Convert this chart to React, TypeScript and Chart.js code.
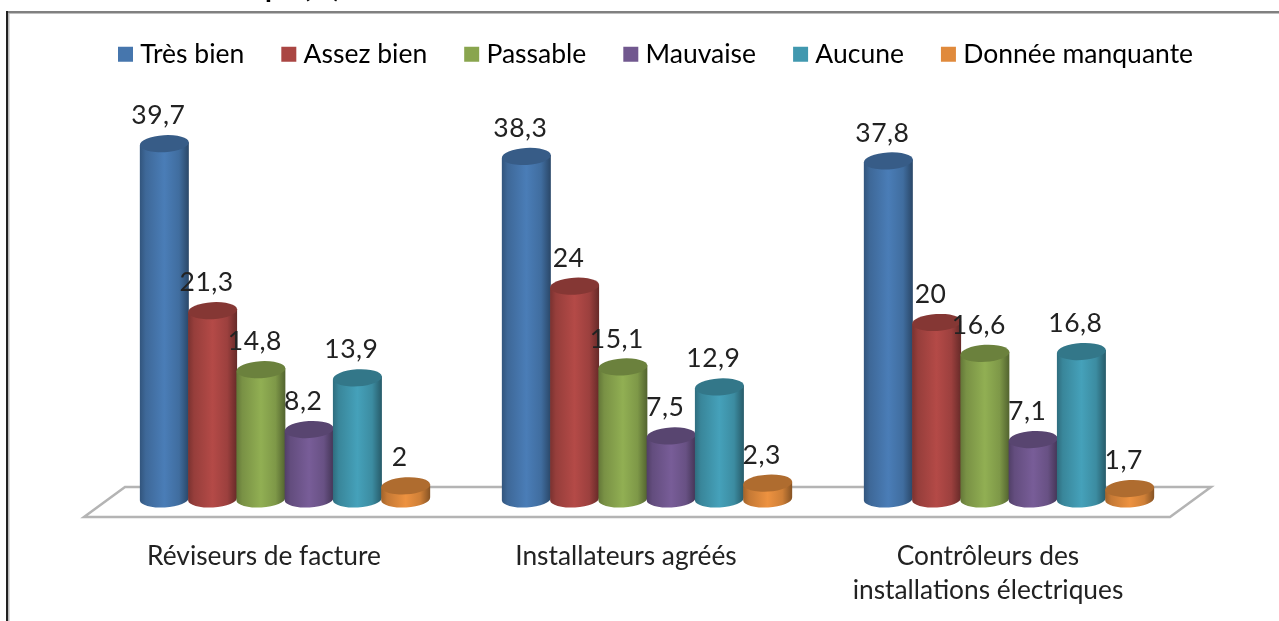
import React, { useEffect, useRef } from "react";
import { Chart, registerables } from "chart.js";

Chart.register(...registerables);

const categories: (string | string[])[] = [
  "Réviseurs de facture",
  "Installateurs agréés",
  ["Contrôleurs des", "installations électriques"],
];
const seriesNames = ["Très bien", "Assez bien", "Passable", "Mauvaise", "Aucune", "Donnée manquante"];
const tresBien = [39.7, 38.3, 37.8];
const assezBien = [21.3, 24, 20];
const passable = [14.8, 15.1, 16.6];
const mauvaise = [8.2, 7.5, 7.1];
const aucune = [13.9, 12.9, 16.8];
const manquante = [2, 2.3, 1.7];
const seriesValues = [tresBien, assezBien, passable, mauvaise, aucune, manquante];
const seriesColors = ["#4676ad", "#aa4643", "#89a54e", "#71588f", "#4198af", "#e08a3c"];
const clippedTitle = "pe (%)";

const FONT = "Lato, 'Noto Sans', sans-serif";
const TEXT = "#222222";

function shade(hex: string, f: number) {
  const n = parseInt(hex.slice(1), 16);
  const c = [(n >> 16) & 255, (n >> 8) & 255, n & 255].map((v) => Math.min(255, Math.round(v * f)));
  return `rgb(${c[0]},${c[1]},${c[2]})`;
}

function drawCylinder(ctx: CanvasRenderingContext2D, x: number, top: number, base: number, w: number, color: string) {
  const rx = w / 2;
  const ry = 8.5;
  const tilt = -0.06;
  const yBase = base - 5;
  const g = ctx.createLinearGradient(x - rx, 0, x + rx, 0);
  g.addColorStop(0, shade(color, 0.72));
  g.addColorStop(0.12, shade(color, 0.88));
  g.addColorStop(0.5, shade(color, 1.06));
  g.addColorStop(0.8, shade(color, 0.92));
  g.addColorStop(1, shade(color, 0.6));
  ctx.save();
  ctx.fillStyle = g;
  ctx.beginPath();
  ctx.moveTo(x - rx, top + 1.5);
  ctx.lineTo(x + rx, top - 1.5);
  ctx.lineTo(x + rx, yBase - 1.5);
  ctx.ellipse(x, yBase, rx, ry, tilt, 0, Math.PI);
  ctx.closePath();
  ctx.fill();
  ctx.fillStyle = shade(color, 0.78);
  ctx.beginPath();
  ctx.ellipse(x, top, rx, ry, tilt, 0, Math.PI * 2);
  ctx.fill();
  ctx.restore();
}

const decorPlugin = {
  id: "decor",
  beforeInit(chart: any) {
    const legend = chart.legend;
    const fit = legend.fit;
    legend.fit = function () {
      this.maxWidth = 1700;
      fit.call(this);
      this.width = 1086;
      this.height = 132;
    };
  },
  afterLayout(chart: any) {
    const legend = chart.legend;
    legend.left = 81;
    legend.right = 1279;
    legend.top -= 11;
    legend.bottom -= 11;
  },
  beforeDraw(chart: any) {
    const { ctx, width, height, chartArea } = chart;
    ctx.save();
    ctx.fillStyle = "#ffffff";
    ctx.fillRect(0, 0, width, height);
    ctx.fillStyle = "#808080";
    ctx.fillRect(6, 11, width - 6, 2.5);
    ctx.fillStyle = "#222222";
    ctx.fillRect(6, 11, 2, height - 11);
    ctx.fillStyle = "#b8b8b8";
    ctx.fillRect(8, 13, 1.5, height - 13);
    ctx.fillStyle = "#000000";
    ctx.font = `bold 28px ${FONT}`;
    ctx.textBaseline = "alphabetic";
    ctx.fillText(clippedTitle, 265, -3);
    const b = chartArea.bottom;
    ctx.strokeStyle = "#b4b4b4";
    ctx.lineWidth = 2.5;
    ctx.beginPath();
    ctx.moveTo(chartArea.left + 21, b - 17);
    ctx.lineTo(chartArea.right + 21, b - 17);
    ctx.lineTo(chartArea.right - 20, b + 13);
    ctx.lineTo(chartArea.left - 20, b + 13);
    ctx.closePath();
    ctx.stroke();
    ctx.restore();
  },
  beforeDatasetDraw() {
    return false;
  },
  afterDatasetsDraw(chart: any) {
    const { ctx } = chart;
    chart.data.datasets.forEach((ds: any, i: number) => {
      chart.getDatasetMeta(i).data.forEach((el: any) => {
        drawCylinder(ctx, el.x, el.y, el.base, 49, ds.backgroundColor);
      });
    });
    ctx.save();
    ctx.fillStyle = TEXT;
    ctx.font = `26.5px ${FONT}`;
    (ctx as any).letterSpacing = "0.5px";
    ctx.textAlign = "center";
    ctx.textBaseline = "middle";
    chart.data.datasets.forEach((ds: any, i: number) => {
      chart.getDatasetMeta(i).data.forEach((el: any, j: number) => {
        ctx.fillText(String(ds.data[j]).replace(".", ","), el.x - 6, el.y - 28);
      });
    });
    ctx.restore();
  },
};

export default function App() {
  const ref = useRef<HTMLCanvasElement>(null);
  useEffect(() => {
    const chart = new Chart(ref.current!, {
      type: "bar",
      data: {
        labels: categories as any,
        datasets: seriesNames.map((label, i) => ({
          label,
          data: seriesValues[i],
          backgroundColor: seriesColors[i],
          barPercentage: 1,
          categoryPercentage: 0.8,
        })),
      },
      plugins: [decorPlugin],
      options: {
        animation: false,
        responsive: false,
        layout: { padding: { left: 104, right: 89, top: 9, bottom: 0 } },
        plugins: {
          title: { display: false },
          tooltip: { enabled: false },
          legend: {
            display: true,
            position: "top",
            align: "start",
            onClick: () => {},
            labels: {
              boxWidth: 3,
              boxHeight: 3,
              padding: 43,
              color: TEXT,
              font: { family: FONT, size: 26.5 },
              generateLabels: (c: any) =>
                c.data.datasets.map((d: any, i: number) => ({
                  text: d.label,
                  fillStyle: d.backgroundColor,
                  strokeStyle: d.backgroundColor,
                  lineWidth: 12,
                  lineJoin: "miter",
                  hidden: false,
                  datasetIndex: i,
                })),
            },
          },
        },
        scales: {
          x: {
            grid: { display: false },
            border: { display: false },
            afterFit: (a: any) => {
              a.height = 117;
            },
            ticks: {
              color: TEXT,
              font: { family: FONT, size: 26.3, lineHeight: 1.3 },
              padding: 27,
              labelOffset: -21,
              maxRotation: 0,
              autoSkip: false,
            },
          },
          y: { display: false, min: 0, max: 40 },
        },
      },
    } as any);
    return () => chart.destroy();
  }, []);
  return (
    <div style={{ position: "absolute", left: 0, top: 0, width: 1279, height: 621 }}>
      <canvas ref={ref} width={1279} height={621} style={{ display: "block" }} />
    </div>
  );
}
